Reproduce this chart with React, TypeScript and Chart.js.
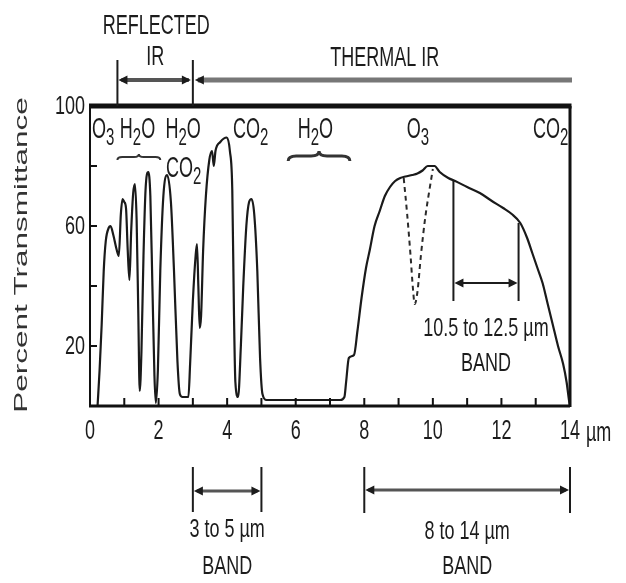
import React, { useEffect, useRef } from 'react';
import { Chart, registerables } from 'chart.js';

Chart.register(...registerables);

// ---- data ----
const wavelengths = [
  0.22, 0.28, 0.34, 0.4, 0.46, 0.55, 0.6, 0.68, 0.78, 0.84, 0.9, 0.95, 1.0, 1.05, 1.1, 1.15, 1.2, 1.26, 1.31,
  1.36, 1.41, 1.45, 1.5, 1.56, 1.62, 1.7, 1.76, 1.82, 1.88, 1.92, 1.98, 2.05, 2.14, 2.25, 2.36, 2.45, 2.55,
  2.62, 2.7, 2.87, 2.92, 3.0, 3.08, 3.12, 3.16, 3.2, 3.24, 3.3, 3.38, 3.48, 3.56, 3.61, 3.66, 3.8, 3.99,
  4.08, 4.15, 4.2, 4.24, 4.32, 4.4, 4.47, 4.56, 4.64, 4.71, 4.79, 4.88, 4.96, 5.03, 5.15, 6.0, 7.3, 7.42,
  7.47, 7.55, 7.7, 7.8, 7.92, 8.05, 8.16, 8.3, 8.45, 8.6, 8.75, 8.9, 9.05, 9.2, 9.4, 9.55, 9.7, 9.85,
  10.05, 10.2, 10.45, 10.65, 11.0, 11.37, 11.7, 12.05, 12.3, 12.55, 12.75, 12.9, 13.05, 13.2, 13.35, 13.5,
  13.65, 13.8, 13.9, 13.97, 14.0,
];
const transmittance = [
  0, 12, 27, 45, 55, 59.5, 60, 57, 52, 50, 64, 69, 68, 66, 52, 42, 58, 71, 74,
  62, 30, 5, 18, 50, 72, 78, 70, 40, 10, 1, 12, 45, 70, 77, 68, 45, 15,
  4, 3, 3, 14, 35, 50, 54, 40, 26, 30, 52, 70, 82, 85, 80, 85, 88, 89.5,
  85, 72, 30, 8, 3, 20, 40, 60, 68, 69, 64, 45, 16, 4, 2, 2, 2, 3,
  8, 16, 17, 25, 36, 46, 52, 60, 65, 70, 73, 75, 76, 76.5, 77, 77.5, 78.5, 80,
  80, 78, 76, 75, 73, 71, 68.5, 66, 64, 61, 56, 51, 46, 41, 34, 27,
  20, 14, 8, 2, 0,
];
// dashed ozone absorption dip
const ozoneWavelengths = [9.15, 9.25, 9.35, 9.42, 9.47, 9.55, 9.65, 9.78, 9.9, 10.0];
const ozoneTransmittance = [76, 64, 50, 39, 34, 38, 50, 63, 72, 79];

// axis ticks
const xTickValues = [1, 2, 3, 4, 5, 6, 7, 8, 9, 10, 11, 12, 13];
const xLabelValues = [0, 2, 4, 6, 8, 10, 12, 14];
const yTickValues = [20, 40, 60, 80];
const yLabelValues = [100, 60, 20];

// spectral regions (µm)
const reflectedIR = [0.8, 3.0];
const thermalIR = [3.0, 14.0];
const midBand = [3, 5];
const longBand = [8, 14];
const splitWindow = [10.6, 12.5];
const splitWindowTop = [75, 61];
const splitWindowBottom = 35;
const splitWindowArrow = 41;

const FONT = '"Liberation Sans", Arial, Helvetica, sans-serif';
const INK = '#1c1c1c';

function stretchedText(
  ctx: CanvasRenderingContext2D,
  text: string,
  x: number,
  y: number,
  size: number,
  align: CanvasTextAlign,
  sy = 1.6,
  baseline: CanvasTextBaseline = 'middle'
) {
  ctx.save();
  ctx.translate(x, y);
  ctx.scale(1, sy);
  ctx.font = `${size}px ${FONT}`;
  ctx.fillStyle = INK;
  ctx.textAlign = align;
  ctx.textBaseline = baseline;
  ctx.fillText(text, 0, 0);
  ctx.restore();
}

// chemical formula: parts alternate normal / subscript
function formula(ctx: CanvasRenderingContext2D, parts: [string, boolean][], x: number, baseY: number) {
  let cx = x;
  for (const [t, sub] of parts) {
    const size = sub ? 15 : 18;
    ctx.save();
    ctx.font = `${size}px ${FONT}`;
    const w = ctx.measureText(t).width;
    ctx.restore();
    stretchedText(ctx, t, cx, baseY + (sub ? 7 : 0), size, 'left', 1.6, 'alphabetic');
    cx += w;
  }
}

function arrowHead(ctx: CanvasRenderingContext2D, tipX: number, y: number, dir: number, len = 9, half = 4.5) {
  ctx.beginPath();
  ctx.moveTo(tipX, y);
  ctx.lineTo(tipX - dir * len, y - half);
  ctx.lineTo(tipX - dir * len, y + half);
  ctx.closePath();
  ctx.fillStyle = INK;
  ctx.fill();
}

function overBrace(ctx: CanvasRenderingContext2D, x1: number, x2: number, y: number, h: number, lw: number) {
  const xm = (x1 + x2) / 2;
  ctx.save();
  ctx.strokeStyle = '#333';
  ctx.lineWidth = lw;
  ctx.beginPath();
  ctx.moveTo(x1, y + h);
  ctx.quadraticCurveTo(x1, y, x1 + h * 1.6, y);
  ctx.lineTo(xm - h * 1.6, y);
  ctx.quadraticCurveTo(xm, y, xm, y - h);
  ctx.quadraticCurveTo(xm, y, xm + h * 1.6, y);
  ctx.lineTo(x2 - h * 1.6, y);
  ctx.quadraticCurveTo(x2, y, x2, y + h);
  ctx.stroke();
  ctx.restore();
}

function bandArrow(
  ctx: CanvasRenderingContext2D,
  x1: number,
  x2: number,
  yLine: number,
  yTop: number,
  yBot: number,
  yTop2 = yTop,
  lineW = 3,
  lineColor = '#555'
) {
  ctx.save();
  ctx.strokeStyle = INK;
  ctx.lineWidth = 2;
  ctx.beginPath();
  ctx.moveTo(x1, yTop);
  ctx.lineTo(x1, yBot);
  ctx.moveTo(x2, yTop2);
  ctx.lineTo(x2, yBot);
  ctx.stroke();
  ctx.strokeStyle = lineColor;
  ctx.lineWidth = lineW;
  ctx.beginPath();
  ctx.moveTo(x1 + 4, yLine);
  ctx.lineTo(x2 - 4, yLine);
  ctx.stroke();
  ctx.restore();
  arrowHead(ctx, x1 + 1, yLine, -1);
  arrowHead(ctx, x2 - 1, yLine, 1);
}

const decorations = {
  id: 'decorations',
  afterDatasetsDraw(chart: Chart) {
    const ctx = chart.ctx;
    const { left, right, top, bottom } = chart.chartArea;
    const xs = chart.scales.x;
    const ys = chart.scales.y;
    const X = (v: number) => xs.getPixelForValue(v);
    const Y = (v: number) => ys.getPixelForValue(v);

    ctx.save();
    // frame
    ctx.strokeStyle = '#111';
    ctx.lineCap = 'butt';
    ctx.lineWidth = 2;
    ctx.beginPath();
    ctx.moveTo(left, top);
    ctx.lineTo(left, bottom);
    ctx.stroke();
    ctx.lineWidth = 3;
    ctx.beginPath();
    ctx.moveTo(left - 1, bottom);
    ctx.lineTo(right, bottom);
    ctx.moveTo(right, bottom + 1);
    ctx.lineTo(right, top);
    ctx.stroke();
    ctx.lineWidth = 5;
    ctx.beginPath();
    ctx.moveTo(left - 1, top);
    ctx.lineTo(right + 1.5, top);
    ctx.stroke();

    // inward ticks
    ctx.lineWidth = 2;
    ctx.beginPath();
    for (const v of xTickValues) {
      ctx.moveTo(X(v), bottom);
      ctx.lineTo(X(v), bottom - 8);
    }
    for (const v of yTickValues) {
      ctx.moveTo(left, Y(v));
      ctx.lineTo(left + 7, Y(v));
    }
    ctx.stroke();
    ctx.restore();

    // tick labels
    for (const v of xLabelValues) stretchedText(ctx, String(v), X(v), 432, 18, 'center', 1.5);
    stretchedText(ctx, '\u00b5m', X(14) + 16, 434, 18, 'left', 1.5);
    for (const v of yLabelValues) stretchedText(ctx, String(v), left - 5, Y(v) + 1, 18, 'right', 1.45);

    // y title
    ctx.save();
    ctx.translate(22, 255);
    ctx.rotate(-Math.PI / 2);
    ctx.scale(1.75, 1);
    ctx.font = `18px ${FONT}`;
    ctx.fillStyle = '#333';
    ctx.textAlign = 'center';
    ctx.textBaseline = 'middle';
    ctx.fillText('Percent Transmittance', 0, 0);
    ctx.restore();

    // header: reflected / thermal IR
    const r1 = X(reflectedIR[0]);
    const r2 = X(reflectedIR[1]);
    ctx.save();
    ctx.strokeStyle = INK;
    ctx.lineWidth = 2;
    ctx.beginPath();
    ctx.moveTo(r1, 60);
    ctx.lineTo(r1, top);
    ctx.moveTo(r2, 60);
    ctx.lineTo(r2, top);
    ctx.stroke();
    ctx.strokeStyle = '#555';
    ctx.lineWidth = 4;
    ctx.beginPath();
    ctx.moveTo(r1 + 4, 80);
    ctx.lineTo(r2 - 4, 80);
    ctx.stroke();
    ctx.strokeStyle = '#777';
    ctx.lineWidth = 5;
    ctx.beginPath();
    ctx.moveTo(X(thermalIR[0]) + 5, 80);
    ctx.lineTo(X(thermalIR[1]) + 2, 80);
    ctx.stroke();
    ctx.restore();
    arrowHead(ctx, r1 + 1, 80, -1);
    arrowHead(ctx, r2 - 2, 80, 1);
    arrowHead(ctx, X(thermalIR[0]) + 2, 80, -1);
    stretchedText(ctx, 'REFLECTED', (r1 + r2) / 2 + 1, 26, 18, 'center', 1.55);
    stretchedText(ctx, 'IR', (r1 + r2) / 2, 58, 18, 'center', 1.5);
    stretchedText(ctx, 'THERMAL IR', X(8.6), 59, 18, 'center', 1.5);

    // gas labels
    const row1 = 138;
    const row2 = 177;
    formula(ctx, [['O', false], ['3', true]], X(0.06), row1);
    formula(ctx, [['H', false], ['2', true], ['O', false]], X(0.87), row1);
    formula(ctx, [['H', false], ['2', true], ['O', false]], X(2.2), row1);
    formula(ctx, [['CO', false], ['2', true]], X(2.22), row2);
    formula(ctx, [['CO', false], ['2', true]], X(4.17), row1);
    formula(ctx, [['H', false], ['2', true], ['O', false]], X(6.06), row1);
    formula(ctx, [['O', false], ['3', true]], X(9.24), row1);
    formula(ctx, [['CO', false], ['2', true]], X(12.92), row1);
    overBrace(ctx, X(0.8), X(2.05), 157, 3, 2);
    overBrace(ctx, X(5.78), X(7.58), 156, 5, 3);

    // 10.5 to 12.5 µm window
    bandArrow(
      ctx,
      X(splitWindow[0]),
      X(splitWindow[1]),
      Y(splitWindowArrow),
      Y(splitWindowTop[0]),
      Y(splitWindowBottom),
      Y(splitWindowTop[1]),
      2,
      INK
    );
    const sc = (X(splitWindow[0]) + X(splitWindow[1])) / 2;
    stretchedText(ctx, '10.5 to 12.5 \u00b5m', sc, 329, 18, 'center', 1.45);
    stretchedText(ctx, 'BAND', sc, 364, 18, 'center', 1.45);

    // bands below axis
    bandArrow(ctx, X(midBand[0]), X(midBand[1]), 491, 467, 512);
    stretchedText(ctx, '3 to 5 \u00b5m', (X(midBand[0]) + X(midBand[1])) / 2, 530, 18, 'center', 1.45);
    stretchedText(ctx, 'BAND', (X(midBand[0]) + X(midBand[1])) / 2, 567, 18, 'center', 1.45);
    bandArrow(ctx, X(longBand[0]), X(longBand[1]), 490, 467, 513);
    stretchedText(ctx, '8 to 14 \u00b5m', (X(longBand[0]) + X(longBand[1])) / 2, 532, 18, 'center', 1.45);
    stretchedText(ctx, 'BAND', (X(longBand[0]) + X(longBand[1])) / 2, 567, 18, 'center', 1.45);
  },
};

export default function App() {
  const canvasRef = useRef<HTMLCanvasElement | null>(null);

  useEffect(() => {
    const canvas = canvasRef.current;
    if (!canvas) return;
    const chart = new Chart(canvas, {
      type: 'line',
      data: {
        datasets: [
          {
            label: 'Transmittance',
            data: wavelengths.map((w, i) => ({ x: w, y: transmittance[i] })),
            borderColor: '#1a1a1a',
            borderWidth: 2.2,
            pointRadius: 0,
            cubicInterpolationMode: 'monotone',
            fill: false,
            clip: false,
          },
          {
            label: 'Ozone absorption',
            data: ozoneWavelengths.map((w, i) => ({ x: w, y: ozoneTransmittance[i] })),
            borderColor: '#2a2a2a',
            borderWidth: 2,
            borderDash: [5, 4],
            pointRadius: 0,
            cubicInterpolationMode: 'monotone',
            fill: false,
            clip: false,
          },
        ],
      },
      options: {
        animation: false,
        responsive: true,
        maintainAspectRatio: false,
        devicePixelRatio: 1,
        layout: { padding: { left: 90, top: 106, right: 56, bottom: 177 } },
        plugins: { legend: { display: false }, tooltip: { enabled: false } },
        scales: {
          x: {
            type: 'linear',
            min: 0,
            max: 14,
            grid: { display: false, drawTicks: false },
            border: { display: false },
            ticks: { display: false, stepSize: 1 },
          },
          y: {
            type: 'linear',
            min: 0,
            max: 100,
            grid: { display: false, drawTicks: false },
            border: { display: false },
            ticks: { display: false, stepSize: 20 },
          },
        },
      },
      plugins: [decorations],
    });
    return () => chart.destroy();
  }, []);

  return (
    <div style={{ position: 'fixed', left: 0, top: 0, width: 626, height: 583, background: '#fff' }}>
      <canvas ref={canvasRef} />
    </div>
  );
}
